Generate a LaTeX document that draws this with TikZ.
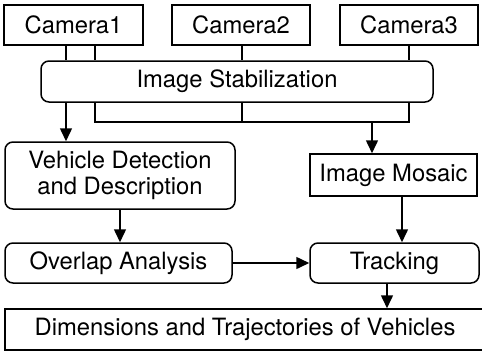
\documentclass[tikz,border=0pt]{standalone}
\usepackage{fontspec}
\setmainfont{TeX Gyre Heros}
\usetikzlibrary{arrows.meta}
\begin{document}
\begin{tikzpicture}[x=1pt,y=-1pt,
  every node/.style={font=\fontsize{23.8}{26}\selectfont, inner sep=0pt, align=center},
  sqbox/.style={draw, line width=1.5pt},
  rbox/.style={draw, line width=1.5pt, rounded corners=8pt},
  conn/.style={line width=1.5pt},
  arr/.style={line width=1.5pt, -{Triangle[length=13pt,width=12pt]}}]
\useasboundingbox (0,0) rectangle (482,351);
% nodes
\node[sqbox, minimum width=139pt, minimum height=40pt] (cam1) at (73.5,25) {Camera1};
\node[sqbox, minimum width=138pt, minimum height=40pt] (cam2) at (241,25) {Camera2};
\node[sqbox, minimum width=138pt, minimum height=40pt] (cam3) at (409,25) {Camera3};
\node[rbox, minimum width=392pt, minimum height=41pt] (stab) at (237,81.5) {Image Stabilization};
\node[rbox, minimum width=230pt, minimum height=67pt] (veh) at (120,175.5) {Vehicle Detection\\and Description};
\node[sqbox, minimum width=167pt, minimum height=42pt] (mos) at (393.5,175) {Image Mosaic};
\node[rbox, minimum width=227pt, minimum height=40pt] (ovl) at (118.5,263) {Overlap Analysis};
\node[rbox, minimum width=169pt, minimum height=40pt] (trk) at (394.5,263) {Tracking};
\node[sqbox, minimum width=480pt, minimum height=41pt] (dim) at (245,329.5) {};
\node at (245,329.5) {Dimensions and Trajectories of Vehicles};
% bus coordinates
\coordinate (b1) at (95,122);
\coordinate (b2) at (242,122);
\coordinate (b3) at (409,122);
\coordinate (bm) at (372,122);
% connectors cameras -> stabilization
\draw[conn] (cam1.south -| 66,0) -- (stab.north -| 66,0);
\draw[conn] (cam1.south -| 95,0) -- (stab.north -| 95,0);
\draw[conn] (cam2.south -| 242,0) -- (stab.north -| 242,0);
\draw[conn] (cam3.south -| 409,0) -- (stab.north -| 409,0);
% stabilization bottom bus
\draw[conn] (stab.south -| b1) -- (b1) -- (b3) -- (stab.south -| b3);
\draw[conn] (stab.south -| b2) -- (b2);
\draw[arr] (bm) -- (mos.north -| bm);
\draw[arr] (stab.south -| 66,0) -- (veh.north -| 66,0);
% lower flow
\draw[arr] (veh.south -| 120,0) -- (ovl.north -| 120,0);
\draw[arr] (mos.south -| 402,0) -- (trk.north -| 402,0);
\draw[arr] (ovl.east) -- (trk.west);
\draw[arr] (trk.south -| 387,0) -- (dim.north -| 387,0);
\end{tikzpicture}
\end{document}
